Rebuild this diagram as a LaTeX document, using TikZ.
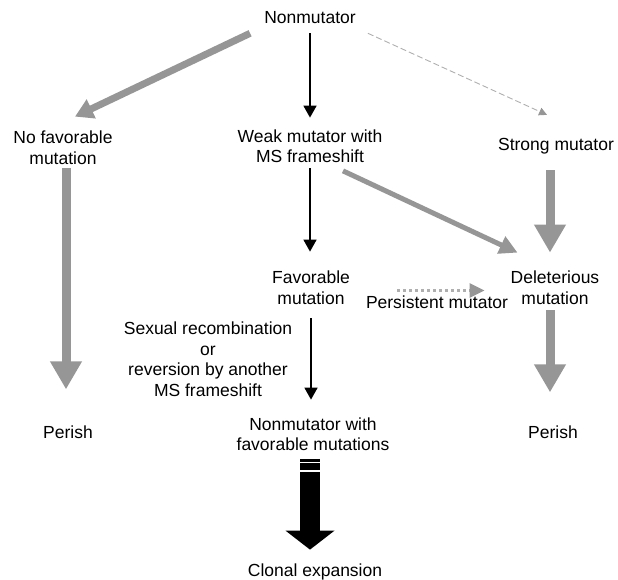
\documentclass[tikz,border=0pt]{standalone}
\usepackage{fontspec}
\setmainfont{Liberation Sans}
\usetikzlibrary{arrows.meta,calc}
\definecolor{stip}{RGB}{150,150,150}
\definecolor{lightstip}{RGB}{175,175,175}
\begin{document}
\begin{tikzpicture}[x=1pt,y=-1pt,
  lbl/.style={font=\fontsize{17.5}{20.5}\selectfont, align=center, inner sep=0pt},
  blk/.style={line width=1.6pt, black, -{Triangle[width=13pt,length=12pt]}},
  stipthick/.style={line width=9pt, stip, -{Triangle[width=30pt,length=28pt]}},
  stipmed/.style={line width=7pt, stip, -{Triangle[width=20pt,length=18pt]}},
  stipdiag/.style={line width=5pt, stip, -{Triangle[width=18pt,length=18pt]}},
  stipthin/.style={line width=3pt, lightstip, dashed, -{Triangle[width=14pt,length=15pt,color=stip,fill=stip]}},
  hair/.style={line width=0.9pt, lightstip, dash pattern=on 6pt off 3pt, -{Triangle[width=8pt,length=8pt,color=stip,fill=stip]}},
  bigblk/.style={line width=20pt, black, -{Triangle[width=48pt,length=19pt]}}
]
\useasboundingbox (0,0) rectangle (618,580);

\node[lbl] (nonm) at (310,18) {Nonmutator};
\node[lbl] (nofav) at (63,147.5) {No favorable\\mutation};
\node[lbl] (weak) at (310,146) {Weak mutator with\\MS frameshift};
\node[lbl] (strong) at (556,146) {Strong mutator};
\node[lbl] (fav) at (311,287.5) {Favorable\\mutation};
\node[lbl] (del) at (555,287.5) {Deleterious\\mutation};
\node[lbl] (pers) at (437,302) {Persistent mutator};
\node[lbl] (sex) at (208,359) {Sexual recombination\\or\\reversion by another\\MS frameshift};
\node[lbl] (perL) at (68,432) {Perish};
\node[lbl] (nmw) at (313,434) {Nonmutator with\\favorable mutations};
\node[lbl] (perR) at (553,432) {Perish};
\node[lbl] (clon) at (315,572) {Clonal expansion};

% black arrows
\draw[blk, shorten <=9pt, shorten >=11.5pt] (nonm.south) -- (nonm.south |- weak.north);
\draw[blk, shorten <=5.5pt, shorten >=19pt] (weak.south) -- (weak.south |- fav.north);
\draw[blk, shorten <=14pt, shorten >=17.5pt] (fav.south) -- (fav.south |- nmw.north);

% gray arrows
\draw[stipmed] ($(nonm.south west)+(-14,9)$) -- ($(nofav.north)+(12,-14)$);
\draw[hair] ($(nonm.south east)+(12,9)$) -- ($(strong.north)+(-9,-23)$);
\draw[stipthick, shorten <=4pt, shorten >=36pt] ([xshift=3pt]nofav.south) -- ([xshift=3pt]nofav.south |- perL.north);
\draw[stipthick, shorten <=16pt, shorten >=18pt] ([xshift=-6pt]strong.south) -- ([xshift=-6pt]strong.south |- del.north);
\draw[stipthick, shorten <=6pt, shorten >=33pt] ([xshift=-5pt]del.south) -- ([xshift=-5pt]del.south |- perR.north);
\draw[stipdiag] ($(weak.south)+(33,8)$) -- ($(del.north west)+(7,-18)$);
\draw[stipthin, shorten <=47pt, shorten >=26pt] ([yshift=-3pt]fav.east) -- ([yshift=-3pt]fav.east -| del.west);

% big black arrow
\draw[bigblk, shorten <=8pt, shorten >=14pt] ([xshift=-3pt]nmw.south) -- ([xshift=-3pt]nmw.south |- clon.north);
\fill[white] (298,461.7) rectangle (322,463.3);
\fill[white] (298,470) rectangle (322,472.3);
\end{tikzpicture}
\end{document}
